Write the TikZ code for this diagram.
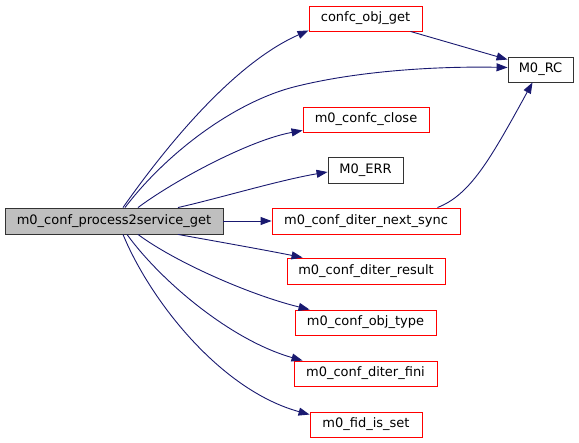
\documentclass[tikz,border=0pt]{standalone}
\usepackage{fontspec}
\setmainfont{DejaVu Sans}
\usetikzlibrary{arrows.meta, positioning, calc}

\definecolor{edgeblue}{HTML}{191970}
\definecolor{boxred}{HTML}{FF0000}
\definecolor{boxgrey}{HTML}{BFBFBF}

\begin{document}
\begin{tikzpicture}[x=1pt, y=-1pt,
    every node/.style={font=\fontsize{13}{15}\selectfont, inner sep=0pt, minimum height=25pt, line width=0.9pt},
    mainfn/.style={draw=black!80, fill=boxgrey},
    linked/.style={draw=boxred},
    plainfn/.style={draw=black!80},
    call/.style={edgeblue, line width=0.9pt, -{Triangle[length=11pt, width=8pt]}}]
    \useasboundingbox (0,0) rectangle (579,443);

    % Nodes
    \node[mainfn, minimum width=218pt, minimum height=26pt] (main) at (114,221) {m0\_conf\_process2service\_get};
    \node[linked, minimum width=113pt] (objget) at (365.5,18.5) {confc\_obj\_get};
    \node[plainfn, minimum width=65pt] (rc) at (540.5,69.5) {M0\_RC};
    \node[linked, minimum width=126pt] (close) at (366,119.5) {m0\_confc\_close};
    \node[plainfn, minimum width=75pt, minimum height=26pt] (err) at (365.5,170) {M0\_ERR};
    \node[linked, minimum width=188pt, minimum height=26pt] (nextsync) at (366,221) {m0\_conf\_diter\_next\_sync};
    \node[linked, minimum width=158pt, minimum height=26pt] (result) at (366,271) {m0\_conf\_diter\_result};
    \node[linked, minimum width=141pt] (objtype) at (365.5,322.5) {m0\_conf\_obj\_type};
    \node[linked, minimum width=143pt] (fini) at (365.5,373.5) {m0\_conf\_diter\_fini};
    \node[linked, minimum width=112pt] (fidset) at (366,424.5) {m0\_fid\_is\_set};

    % Calls from the main function
    \draw[call] ([xshift=9pt]main.north) .. controls (160,155) and (230,65) .. ([yshift=1pt]objget.south west);
    \draw[call] ([xshift=11pt]main.north) .. controls (165,155) and (230,105) .. (290,88)
        .. controls (350,72) and (430,66) .. ([yshift=2pt]rc.west);
    \draw[call] ([xshift=24pt]main.north) .. controls (175,180) and (250,140) .. ([yshift=2pt]close.south west);
    \draw[call] ([xshift=64pt]main.north) .. controls (220,198) and (280,180) .. ([yshift=-2pt]err.west);
    \draw[call] (main.east) -- (nextsync.west);
    \draw[call] ([xshift=64pt]main.south) .. controls (220,242) and (265,250) .. ([xshift=16pt]result.north west);
    \draw[call] ([xshift=24pt]main.south) .. controls (175,262) and (250,295) .. ([xshift=15pt]objtype.north west);
    \draw[call] ([xshift=13pt]main.south) .. controls (160,280) and (230,340) .. ([xshift=9pt]fini.north west);
    \draw[call] ([xshift=9pt]main.south) .. controls (150,300) and (220,390) .. ([yshift=-3pt]fidset.north west);

    % Calls into M0_RC
    \draw[call] ([xshift=-12pt]objget.south east) -- ([yshift=-3pt]rc.north west);
    \draw[call] ([xshift=-23pt]nextsync.north east) .. controls (470,195) and (490,160) .. ([xshift=-8pt]rc.south);
\end{tikzpicture}
\end{document}
